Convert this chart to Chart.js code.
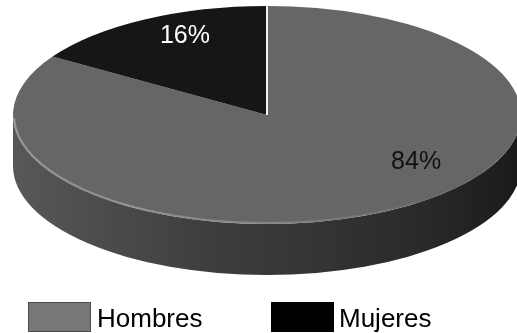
<!DOCTYPE html>
<html>
<head>
<meta charset="utf-8">
<script src="https://cdn.jsdelivr.net/npm/chart.js@4"></script>
<style>
html, body { margin: 0; padding: 0; background: #fff; }
#wrap { position: relative; width: 517px; height: 333px; overflow: hidden; }
#c { position: absolute; left: 0; top: 0; }
.key { position: absolute; font-family: "Liberation Sans", Arial, sans-serif; font-size: 26px; line-height: 26px; color: #000; white-space: nowrap; }
.swatch { position: absolute; box-sizing: border-box; }
</style>
</head>
<body>
<div id="wrap">
  <canvas id="c" width="517" height="333"></canvas>
  <div id="legend"></div>
</div>
<script>
// Sex distribution
const labels = ['Hombres', 'Mujeres'];
const values = [84, 16];
const sliceColors = ['#666666', '#161616'];
const legendColors = ['#78787b', '#000000'];

// Flattened "3D" pie: the library lays out the arcs, this plugin squashes
// them into an ellipse and adds the extruded rim underneath.
const pie3d = {
  id: 'pie3d',
  beforeDatasetsDraw(chart, args, o) {
    const ctx = chart.ctx;
    const arcs = chart.getDatasetMeta(0).data;
    const { cx, cy, rx, ry, depth } = o;

    // rim: only the front half (0..PI) is visible
    arcs.forEach((arc, i) => {
      const segs = [];
      const a0 = Math.max(arc.startAngle, 0), a1 = Math.min(arc.endAngle, Math.PI);
      if (a1 > a0) segs.push([a0, a1]);
      // angles wrapped beyond 2PI
      const b0 = Math.max(arc.startAngle, 2 * Math.PI), b1 = Math.min(arc.endAngle, 3 * Math.PI);
      if (b1 > b0) segs.push([b0 - 2 * Math.PI, b1 - 2 * Math.PI]);
      segs.forEach(([s, e]) => {
        const g = ctx.createLinearGradient(cx - rx, 0, cx + rx, 0);
        const sh = o.rimShades[i];
        sh.forEach((c, k) => g.addColorStop(k / (sh.length - 1), c));
        ctx.save();
        ctx.beginPath();
        ctx.ellipse(cx, cy, rx, ry, 0, s, e);
        ctx.ellipse(cx, cy + depth, rx, ry, 0, e, s, true);
        ctx.closePath();
        ctx.fillStyle = g;
        ctx.fill();
        ctx.restore();
      });
    });

    // squash the top face
    const a = arcs[0];
    ctx.save();
    ctx.translate(cx, cy);
    ctx.scale(rx / a.outerRadius, ry / a.outerRadius);
    ctx.translate(-a.x, -a.y);
  },
  afterDatasetsDraw(chart, args, o) {
    const ctx = chart.ctx;
    ctx.restore();
    const arcs = chart.getDatasetMeta(0).data;
    const { cx, cy, rx, ry } = o;

    // soft bevel along the front edge of the top face
    const hg = ctx.createLinearGradient(cx - rx, 0, cx + rx * 0.7, 0);
    hg.addColorStop(0, 'rgba(180,180,180,0.6)');
    hg.addColorStop(0.6, 'rgba(165,165,165,0.5)');
    hg.addColorStop(1, 'rgba(150,150,150,0)');
    ctx.save();
    ctx.beginPath();
    ctx.ellipse(cx, cy, rx - 1, ry - 1, 0, 0.12 * Math.PI, 0.99 * Math.PI);
    ctx.strokeStyle = hg;
    ctx.lineWidth = 2;
    ctx.stroke();
    ctx.restore();

    // white divider at the start of the first slice
    const s = arcs[0].startAngle;
    ctx.save();
    ctx.beginPath();
    ctx.moveTo(cx, cy);
    ctx.lineTo(cx + rx * Math.cos(s), cy + ry * Math.sin(s));
    ctx.strokeStyle = '#f4f4f4';
    ctx.lineWidth = 2;
    ctx.stroke();
    ctx.restore();

    // percentage labels
    const ds = chart.data.datasets[0].data;
    const total = ds.reduce((p, v) => p + v, 0);
    ctx.save();
    ctx.font = '25px "Liberation Sans", Arial, sans-serif';
    ctx.textAlign = 'center';
    ctx.textBaseline = 'middle';
    arcs.forEach((arc, i) => {
      const [fx, fy] = o.labelSpots[i];
      ctx.fillStyle = o.labelColors[i];
      ctx.fillText(Math.round(ds[i] / total * 100) + '%', cx + fx * rx, cy + fy * ry);
    });
    ctx.restore();
  }
};

new Chart(document.getElementById('c'), {
  type: 'pie',
  data: {
    labels: labels,
    datasets: [{
      data: values,
      backgroundColor: sliceColors,
      borderWidth: 0,
      clip: false
    }]
  },
  options: {
    responsive: false,
    devicePixelRatio: 1,
    animation: false,
    layout: { padding: 0 },
    plugins: {
      legend: { display: false },
      tooltip: { enabled: false },
      pie3d: {
        cx: 267, cy: 115, rx: 254, ry: 109, depth: 51,
        rimShades: [
          ['#585858', '#4a4a4a', '#3d3d3d', '#343434', '#2a2a2a', '#1a1a1a'],
          ['#101010', '#0c0c0c']
        ],
        labelSpots: [[0.587, 0.43], [-0.323, -0.725]],
        labelColors: ['#111111', '#ffffff']
      }
    }
  },
  plugins: [pie3d]
});

// legend row under the pie
const legend = document.getElementById('legend');
const keyPos = [{ box: 28, text: 97 }, { box: 271, text: 339 }];
labels.forEach((name, i) => {
  const sw = document.createElement('div');
  sw.className = 'swatch';
  sw.style.left = keyPos[i].box + 'px';
  sw.style.top = '302px';
  sw.style.width = '63px';
  sw.style.height = '30px';
  sw.style.background = legendColors[i];
  sw.style.border = i === 0 ? '1px solid #4c4c4c' : '1px solid #000';
  legend.appendChild(sw);
  const t = document.createElement('div');
  t.className = 'key';
  t.style.left = keyPos[i].text + 'px';
  t.style.top = '305px';
  t.textContent = name;
  legend.appendChild(t);
});
</script>
</body>
</html>
